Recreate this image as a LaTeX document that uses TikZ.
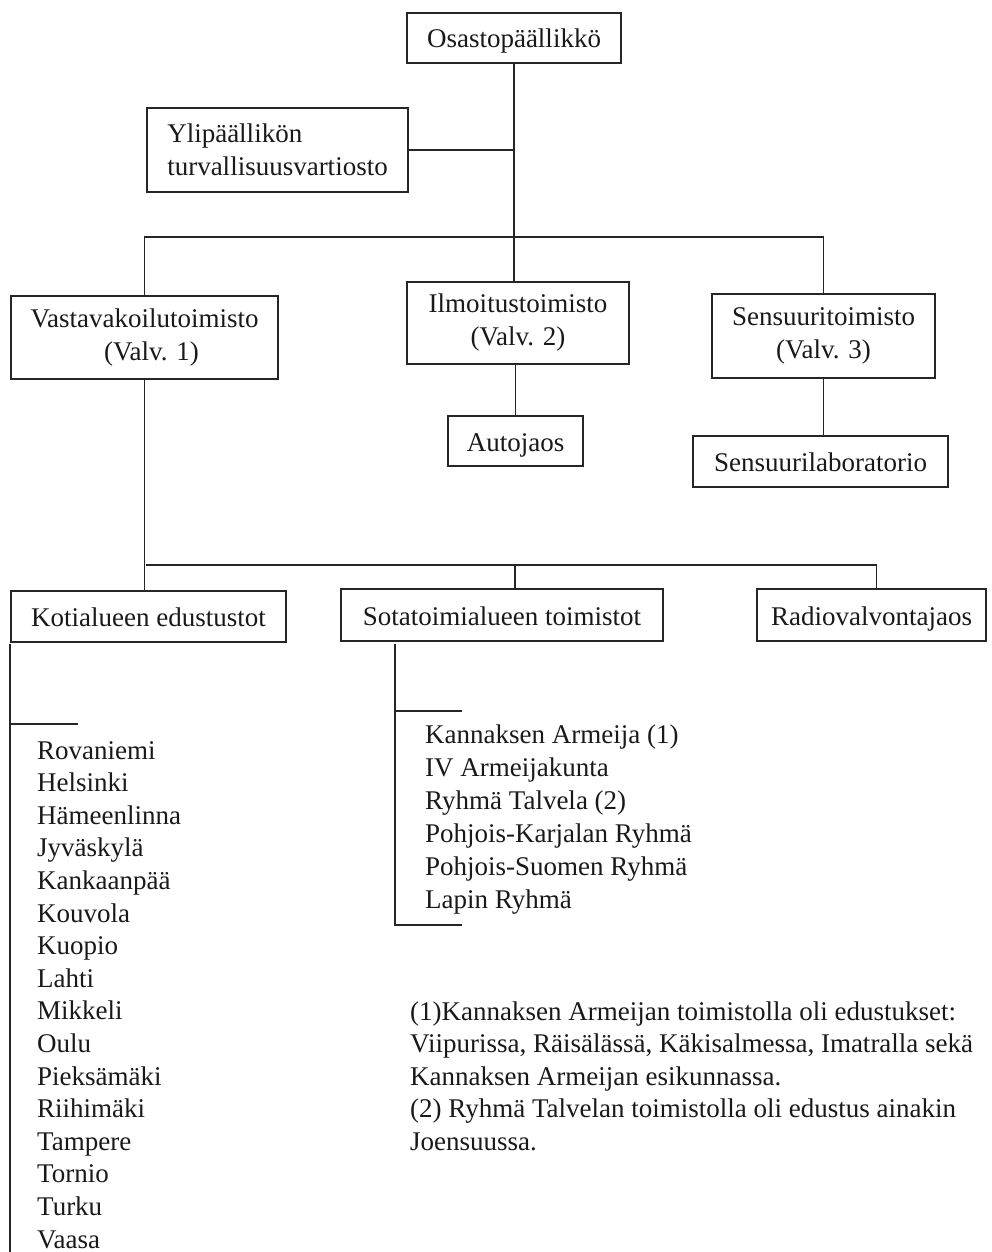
\documentclass[tikz,border=0pt]{standalone}
\usepackage{fontspec}
\setmainfont{Liberation Serif}
\usepackage{tikz}

\tikzset{
  unit/.style={draw=black!85, line width=1.3pt, inner sep=0pt, text=black!90,
    font=\fontsize{27}{33}\selectfont},
  oneline/.style={unit, text height=20pt, text depth=0pt},
  link/.style={draw=black!85, line width=1.6pt},
  entry/.style={anchor=base west, inner sep=0pt, text=black!90,
    font=\fontsize{27}{33}\selectfont}
}

\begin{document}
\begin{tikzpicture}[x=1pt, y=-1pt]
        \useasboundingbox (0,0) rectangle (991,1252);

        % Head and staff
        \node[oneline, minimum width=214, minimum height=50] (osasto) at (514,38) {Osastopäällikkö};
        \node[unit, align=left, minimum width=261, minimum height=84] (ylip) at (277.5,150) {Ylipäällikön\\turvallisuusvartiosto};

        % Offices
        \node[unit, align=center, minimum width=267, minimum height=83] (vasta) at (144.5,337.5) {Vastavakoilutoimisto\\\hspace*{14pt}(Valv. 1)};
        \node[unit, align=center, minimum width=222, minimum height=82] (ilmo) at (518,323) {Ilmoitustoimisto\\(Valv. 2)};
        \node[unit, align=center, minimum width=223, minimum height=84] (sens) at (823.5,336) {Sensuuritoimisto\\(Valv. 3)};
        \node[oneline, minimum width=135, minimum height=50] (auto) at (515.5,441) {Autojaos};
        \node[oneline, minimum width=255, minimum height=51] (senslab) at (820.5,461.5) {Sensuurilaboratorio};

        % Sections under Valv. 1
        \node[oneline, minimum width=275, minimum height=51] (koti) at (148.5,616.5) {Kotialueen edustustot};
        \node[oneline, minimum width=322, minimum height=52] (sota) at (502,615) {Sotatoimialueen toimistot};
        \node[oneline, minimum width=229, minimum height=52] (radio) at (871.5,615) {Radiovalvontajaos};

        % Connectors
        \coordinate (b1) at (515,237);
        \coordinate (b2) at (146,565);
        \draw[link] (osasto.south) -- (osasto.south |- ilmo.north);
        \draw[link] (ylip.east) -- (ylip.east -| osasto.south);
        \draw[link] (vasta.north) |- (b1) -| (sens.north);
        \draw[link] (auto.north |- ilmo.south) -- (auto.north);
        \draw[link] (sens.south) -- (senslab.north -| sens.south);
        \draw[link] (vasta.south) -- (vasta.south |- koti.north);
        \draw[link] (b2) -| ([xshift=5]radio.north);
        \draw[link] ([xshift=13]sota.north) -- ([xshift=13]sota.north |- b2);

        % Brackets of the lists
        \coordinate (ktop) at (10,644);
        \coordinate (ktick) at (10,724);
        \coordinate (kend) at (10,1252);
        \draw[link] (ktop) -- (kend);
        \draw[link] (ktick) -- ++(68,0);
        \coordinate (stop) at (395,644);
        \coordinate (stick) at (395,711);
        \coordinate (sbot) at (395,925);
        \draw[link] (stop) -- (sbot) -- ++(67,0);
        \draw[link] (stick) -- ++(67,0);

        % Home area offices
        \foreach \town [count=\i] in {Rovaniemi, Helsinki, Hämeenlinna, Jyväskylä, Kankaanpää, Kouvola, Kuopio, Lahti, Mikkeli, Oulu, Pieksämäki, Riihimäki, Tampere, Tornio, Turku, Vaasa}
            \node[entry] (town\i) at (37,{759+(\i-1)*32.6}) {\town};

        % Front offices
        \foreach \army [count=\i] in {{Kannaksen Armeija (1)}, {IV Armeijakunta}, {Ryhmä Talvela (2)}, {Pohjois-Karjalan Ryhmä}, {Pohjois-Suomen Ryhmä}, {Lapin Ryhmä}}
            \node[entry] (army\i) at (425,{743+(\i-1)*33}) {\army};

        % Notes
        \foreach \noteline [count=\i] in {{(1)Kannaksen Armeijan toimistolla oli edustukset:}, {Viipurissa, Räisälässä, Käkisalmessa, Imatralla sekä}, {Kannaksen Armeijan esikunnassa.}, {(2) Ryhmä Talvelan toimistolla oli edustus ainakin}, {Joensuussa.}}
            \node[entry] (note\i) at (410,{1020+(\i-1)*32.6}) {\noteline};
\end{tikzpicture}
\end{document}
